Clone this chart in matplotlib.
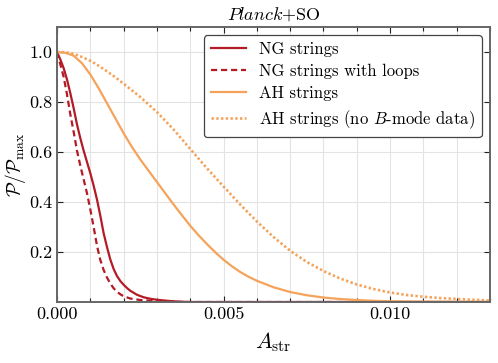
import numpy as np
import matplotlib
matplotlib.use("Agg")
import matplotlib.pyplot as plt
import matplotlib.ticker as mticker

# ── Style ────────────────────────────────────────────────────────────────────
plt.rcParams.update({
    "font.family": "serif",
    "font.serif": ["cmr10"],
    "mathtext.fontset": "cm",
    "axes.formatter.use_mathtext": True,
    "font.size": 13,
})

RED = "#b31b25"
ORANGE = "#f5a35a"

# ── Data ─────────────────────────────────────────────────────────────────────
ng_A = [0, 0.0001, 0.0002, 0.0003, 0.0004, 0.0005, 0.0006, 0.0007, 0.0008,
        0.0009, 0.001, 0.0011, 0.0012, 0.0013, 0.0014, 0.0015,
        0.0016, 0.0017, 0.0018, 0.0019, 0.002, 0.0021, 0.0022, 0.0024,
        0.0026, 0.0028, 0.003, 0.0033, 0.0036, 0.004, 0.013]
ng_P = [1.0, 0.97, 0.935, 0.89, 0.835, 0.775, 0.71, 0.655, 0.605,
        0.56, 0.515, 0.465, 0.41, 0.345, 0.275, 0.22,
        0.17, 0.132, 0.104, 0.084, 0.069, 0.056, 0.045, 0.029,
        0.019, 0.013, 0.009, 0.005, 0.002, 0.0, 0.0]

ngl_A = [0, 0.0001, 0.0002, 0.0003, 0.0004, 0.0005, 0.0006, 0.0007, 0.0008,
         0.0009, 0.001, 0.0011, 0.0012, 0.0013, 0.0014, 0.0015, 0.0016,
         0.0017, 0.0018, 0.0019, 0.002, 0.0022, 0.0025, 0.003, 0.0035,
         0.004, 0.013]
ngl_P = [1.0, 0.95, 0.90, 0.83, 0.75, 0.68, 0.605, 0.545, 0.49,
         0.435, 0.37, 0.30, 0.225, 0.168, 0.128, 0.098, 0.074,
         0.055, 0.041, 0.031, 0.023, 0.014, 0.008, 0.003, 0.0005,
         0.0, 0.0]

ah_A = [0, 0.00025, 0.0005, 0.00075, 0.001, 0.00125, 0.0015, 0.00175, 0.002,
        0.00225, 0.0025, 0.00275, 0.003, 0.00325, 0.0035, 0.00375, 0.004,
        0.00425, 0.0045, 0.00475, 0.005, 0.00525, 0.0055, 0.00575, 0.006,
        0.0065, 0.007, 0.0075, 0.008, 0.0085, 0.009, 0.0095, 0.010, 0.011,
        0.012, 0.013]
ah_P = [1.0, 0.997, 0.985, 0.955, 0.91, 0.855, 0.795, 0.735, 0.675,
        0.62, 0.57, 0.525, 0.48, 0.435, 0.39, 0.347, 0.305,
        0.267, 0.232, 0.199, 0.169, 0.143, 0.12, 0.101, 0.085,
        0.059, 0.04, 0.027, 0.018, 0.012, 0.008, 0.005, 0.003, 0.0015,
        0.0007, 0.0003]

ahnb_A = [0, 0.00025, 0.0005, 0.00075, 0.001, 0.00125, 0.0015, 0.00175,
          0.002, 0.0025, 0.003, 0.0035, 0.004, 0.0045, 0.005, 0.0055,
          0.006, 0.0065, 0.007, 0.0075, 0.008, 0.0085, 0.009, 0.0095,
          0.010, 0.0105, 0.011, 0.0115, 0.012, 0.0125, 0.013]
ahnb_P = [1.0, 0.999, 0.993, 0.98, 0.965, 0.945, 0.923, 0.899,
          0.873, 0.82, 0.76, 0.69, 0.612, 0.535, 0.462, 0.39,
          0.322, 0.26, 0.205, 0.16, 0.124, 0.094, 0.07, 0.052,
          0.038, 0.028, 0.021, 0.016, 0.012, 0.009, 0.006]

# ── Figure ───────────────────────────────────────────────────────────────────
fig = plt.figure(figsize=(4.98, 3.63), dpi=100)
ax = fig.add_axes([0.1145, 0.168, 0.8695, 0.7576])

ax.plot(ng_A, ng_P, color=RED, lw=1.6, label="NG strings")
ax.plot(ngl_A, ngl_P, color=RED, lw=1.6, ls=(0, (2.8, 1.7)),
        label="NG strings with loops")
ax.plot(ah_A, ah_P, color=ORANGE, lw=1.6, label="AH strings")
ax.plot(ahnb_A, ahnb_P, color=ORANGE, lw=1.9, ls=(0, (0.9, 0.9)),
        label="AH strings (no $B$-mode data)")

ax.set_xlim(0, 0.013)
ax.set_ylim(0, 1.1)
ax.xaxis.set_major_locator(mticker.MultipleLocator(0.005))
ax.xaxis.set_minor_locator(mticker.MultipleLocator(0.001))
ax.xaxis.set_major_formatter(mticker.FormatStrFormatter("%.3f"))
ax.set_yticks([0.2, 0.4, 0.6, 0.8, 1.0])
ax.yaxis.set_major_formatter(mticker.FormatStrFormatter("%.1f"))

ax.grid(True, which="both", axis="x", color="#e3e3e3", lw=0.8)
ax.grid(True, which="major", axis="y", color="#e3e3e3", lw=0.8)
ax.set_axisbelow(True)

ax.tick_params(which="both", direction="in", top=True, right=True,
               color="#222222", width=0.8, labelsize=13, pad=3.5)
ax.tick_params(which="major", length=4)
ax.tick_params(which="minor", length=3)
for s in ax.spines.values():
    s.set_color("#666666")
    s.set_linewidth(1.4)

ax.set_xlabel(r"$A_{\rm str}$", fontsize=16, labelpad=6)
ax.set_ylabel(r"$\mathcal{P}/\mathcal{P}_{\rm max}$", fontsize=14, labelpad=1)
ax.set_title(r"$\it{Planck}$+SO", fontsize=13, pad=5)

leg = ax.legend(loc="upper right", fontsize=12, frameon=True, fancybox=True,
                edgecolor="#444444", framealpha=1, handlelength=2.1,
                handletextpad=0.8, borderaxespad=0.5, labelspacing=0.4)
leg.get_frame().set_linewidth(0.9)

fig.savefig("out.png", dpi=100)
